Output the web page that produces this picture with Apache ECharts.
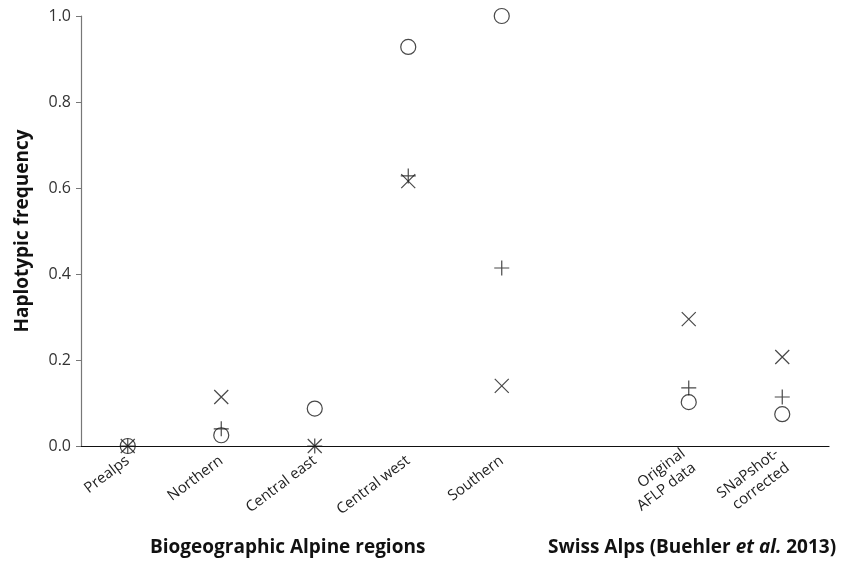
<!DOCTYPE html>
<html>
<head>
<meta charset="utf-8">
<script src="https://cdn.jsdelivr.net/npm/echarts@6/dist/echarts.min.js"></script>
<style>
  html, body { margin: 0; padding: 0; background: #fff; }
  #grafico { width: 847px; height: 561px; }
</style>
</head>
<body>
<div id="grafico"></div>
<script>
// regions, then an empty slot, then the two Swiss Alps data sets
var regioes = ['Prealps', 'Northern', 'Central east', 'Central west', 'Southern', '', 'Original\nAFLP data', 'SNaPshot-\ncorrected'];
var circulos = [0, 0.025, 0.087, 0.928, 1.0, null, 0.102, 0.074];
var cruzes = [0, 0.040, 0, 0.628, 0.414, null, 0.135, 0.114];
var xis = [0, 0.114, 0, 0.616, 0.140, null, 0.295, 0.207];
var ticksY = [0, 0.2, 0.4, 0.6, 0.8, 1.0];

var chartDom = document.getElementById('grafico');
var myChart = echarts.init(chartDom);
var fonte = '"Open Sans", sans-serif';

function serie(nome, valores, simbolo, tam) {
  return {
    name: nome,
    type: 'scatter',
    data: valores,
    symbol: simbolo,
    symbolSize: tam,
    itemStyle: { color: 'none', borderColor: '#1a1a1a', borderWidth: 1.2 },
    emphasis: { disabled: true },
    z: 3
  };
}

var option = {
  animation: false,
  grid: { left: 81, right: 18, top: 16, bottom: 115, containLabel: false },
  xAxis: {
    type: 'category',
    data: regioes,
    axisLine: { lineStyle: { color: '#111', width: 1.2 } },
    axisTick: { show: false },
    axisLabel: {
      interval: 0,
      rotate: 37,
      margin: 13,
      fontFamily: fonte,
      fontSize: 15,
      color: '#222',
      lineHeight: 18
    }
  },
  yAxis: {
    type: 'value',
    min: ticksY[0],
    max: ticksY[ticksY.length - 1],
    interval: 0.2,
    name: 'Haplotypic frequency',
    nameLocation: 'middle',
    nameGap: 49,
    nameTextStyle: { fontFamily: fonte, fontSize: 19, fontWeight: 'bold', color: '#111' },
    splitLine: { show: false },
    axisLine: { show: true, lineStyle: { color: '#777', width: 1.2 } },
    axisTick: { show: true, length: 5, inside: false, lineStyle: { color: '#777' } },
    axisLabel: {
      margin: 10,
      fontFamily: fonte,
      fontSize: 16,
      color: '#333',
      formatter: function (v) { return v.toFixed(1); }
    }
  },
  series: [
    serie('Círculo', circulos, 'circle', 15),
    serie('Cruz', cruzes, 'path://M0,8L16,8M8,0L8,16', 15),
    serie('X', xis, 'path://M0,0L16,16M16,0L0,16', 14)
  ],
  graphic: [
    {
      type: 'text', x: 150, y: 548,
      style: {
        text: 'Biogeographic Alpine regions', font: 'bold 19px ' + fonte, fill: '#111',
        align: 'left', verticalAlign: 'middle'
      }
    },
    {
      type: 'text', x: 548, y: 548,
      style: {
        text: '{n|Swiss Alps (Buehler }{i|et al.}{n| 2013)}',
        align: 'left', verticalAlign: 'middle',
        rich: {
          n: { font: 'bold 19px ' + fonte, fill: '#111' },
          i: { font: 'italic bold 19px ' + fonte, fill: '#111' }
        }
      }
    }
  ]
};

option && myChart.setOption(option);
</script>
</body>
</html>
